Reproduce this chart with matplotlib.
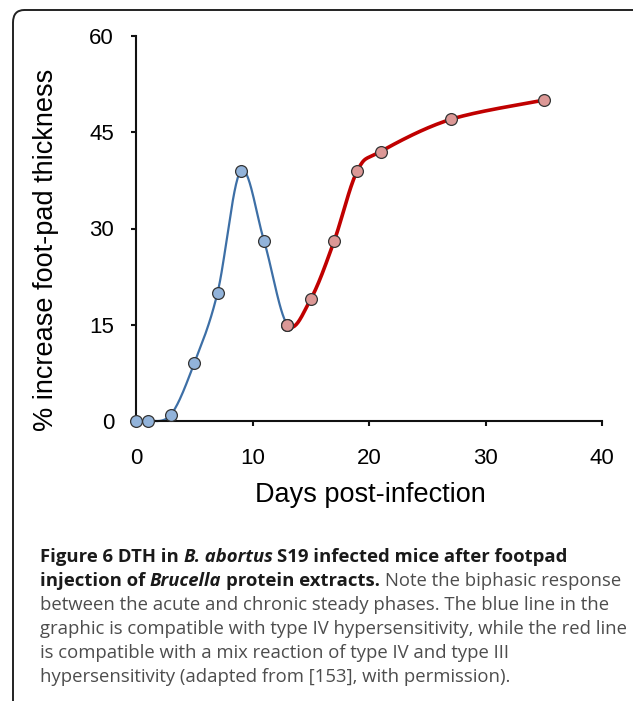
import matplotlib
matplotlib.use("Agg")
import matplotlib.pyplot as plt
import numpy as np
from matplotlib.patches import FancyBboxPatch

# data
blue_days = [0, 1, 3, 5, 7, 9, 11, 13]
blue_vals = [0, 0, 1, 9, 20, 39, 28, 15]
red_days = [13, 15, 17, 19, 21, 27, 35]
red_vals = [15, 19, 28, 39, 42, 47, 50]
x_ticks = [0, 10, 20, 30, 40]
y_ticks = [0, 15, 30, 45, 60]

W, H = 633, 701
AX_FONT = ["Liberation Sans", "DejaVu Sans"]
CAP_FONT = ["Open Sans", "DejaVu Sans"]


def smooth_segments(xs, ys, sx=11.66, sy=6.42, n=30):
    # Excel-like smoothed line: cardinal spline as cubic Bezier segments (screen space)
    p = np.column_stack([np.asarray(xs, float) * sx, np.asarray(ys, float) * sy])
    pts = np.vstack([p[0], p, p[-1]])
    t = np.linspace(0, 1, n)[:, None]
    segs = []
    for i in range(1, len(pts) - 2):
        p0, p1, p2, p3 = pts[i - 1], pts[i], pts[i + 1], pts[i + 2]
        c1 = p1 + (p2 - p0) / 6
        c2 = p2 - (p3 - p1) / 6
        seg = ((1 - t) ** 3) * p1 + 3 * ((1 - t) ** 2) * t * c1 + 3 * (1 - t) * t ** 2 * c2 + t ** 3 * p2
        segs.append(seg / [sx, sy])
    return segs


fig = plt.figure(figsize=(W / 100, H / 100), dpi=100)
fig.patch.set_facecolor("white")

# rounded frame, open to the right and bottom
fig.add_artist(FancyBboxPatch((13 / W, -0.1), (645 - 13) / W, 1.1 - 10 / H,
                              boxstyle="round,pad=0,rounding_size=0.018",
                              facecolor="none", edgecolor="#222222", lw=1.4,
                              transform=fig.transFigure, clip_on=False))

ax = fig.add_axes([136 / W, 280 / H, 466 / W, 385 / H])

# one smoothed series through all days; the part after day 13 is drawn in red
all_days = blue_days + red_days[1:]
all_vals = blue_vals + red_vals[1:]
segs = smooth_segments(all_days, all_vals)
nb = len(blue_days) - 1
blue_curve = np.vstack(segs[:nb])
red_curve = np.vstack(segs[nb:])
ax.plot(blue_curve[:, 0], blue_curve[:, 1], color="#3d6fa6", lw=1.6, zorder=2, clip_on=False)
ax.plot(red_curve[:, 0], red_curve[:, 1], color="#c00000", lw=2.6, zorder=3, clip_on=False)
ax.plot(blue_days, blue_vals, "o", ms=8.5, mfc="#92b3da", mec="#333333", mew=0.9, zorder=4, clip_on=False)
ax.plot(red_days, red_vals, "o", ms=8.5, mfc="#dc9896", mec="#333333", mew=0.9, zorder=5, clip_on=False)

ax.set_xlim(0, 40)
ax.set_ylim(0, 60)
ax.set_xticks(x_ticks)
ax.set_yticks(y_ticks)
for s in ("top", "right"):
    ax.spines[s].set_visible(False)
for s in ("left", "bottom"):
    ax.spines[s].set_linewidth(1.5)
    ax.spines[s].set_color("#111111")
ax.tick_params(direction="out", length=3.8, width=1.5, color="#111111", labelsize=16)
ax.tick_params(axis="y", pad=12)
ax.tick_params(axis="x", pad=16)
for lab in ax.get_xticklabels() + ax.get_yticklabels():
    lab.set_family(AX_FONT)
ax.set_xlabel("Days post-infection", family=AX_FONT, fontsize=19.5)
ax.set_ylabel("% increase foot-pad thickness", family=AX_FONT, fontsize=19.5)
ax.xaxis.set_label_coords(0.502, -0.158)
ax.yaxis.set_label_coords(-0.165, 0.444)

# caption with mixed weights, laid out piece by piece
caption = [
    [("Figure 6 DTH in", "bold", "normal", "#1a1a1a"), ("B. abortus", "bold", "italic", "#1a1a1a"),
     ("S19 infected mice after footpad", "bold", "normal", "#1a1a1a")],
    [("injection of", "bold", "normal", "#1a1a1a"), ("Brucella", "bold", "italic", "#1a1a1a"),
     ("protein extracts.", "bold", "normal", "#1a1a1a"),
     ("Note the biphasic response", "normal", "normal", "#4d4d4d")],
    [("between the acute and chronic steady phases. The blue line in the", "normal", "normal", "#4d4d4d")],
    [("graphic is compatible with type IV hypersensitivity, while the red line", "normal", "normal", "#4d4d4d")],
    [("is compatible with a mix reaction of type IV and type III", "normal", "normal", "#4d4d4d")],
    [("hypersensitivity (adapted from [153], with permission).", "normal", "normal", "#4d4d4d")],
]
CAP_SIZE = 13.3
renderer = fig.canvas.get_renderer()


def width_px(s, weight, style):
    t = fig.text(0, 0, s, family=CAP_FONT, fontsize=CAP_SIZE, weight=weight, style=style)
    w = t.get_window_extent(renderer).width
    t.remove()
    return w


y0 = H - 562
for i, line in enumerate(caption):
    x = 40
    y = y0 - i * 24
    for j, (s, weight, style, col) in enumerate(line):
        if j > 0:
            x += width_px("x x", weight, style) - width_px("xx", weight, style)
        t = fig.text(x / W, y / H, s, family=CAP_FONT, fontsize=CAP_SIZE, weight=weight,
                     style=style, color=col, va="baseline", ha="left")
        x += t.get_window_extent(renderer).width

fig.savefig("out.png", dpi=100, facecolor="white")
